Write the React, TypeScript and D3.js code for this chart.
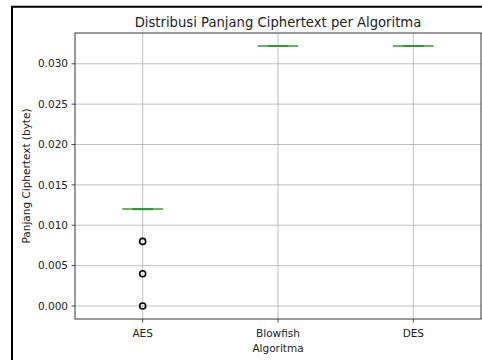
import React from "react";
import * as d3 from "d3";

const categories = ["AES", "Blowfish", "DES"];
const aesValues = [0.012, 0.012, 0.012, 0.012, 0.012, 0.012, 0.012, 0.012, 0.012, 0.012, 0.012, 0.012, 0.012, 0.008, 0.004, 0.0];
const blowfishValues = [0.0322, 0.0322, 0.0322, 0.0322, 0.0322, 0.0322, 0.0322, 0.0322];
const desValues = [0.0322, 0.0322, 0.0322, 0.0322, 0.0322, 0.0322, 0.0322, 0.0322];
const yTicks = [0, 0.005, 0.01, 0.015, 0.02, 0.025, 0.03];

const series = [aesValues, blowfishValues, desValues];

const W = 482, H = 360;
const M = { left: 75, right: 481, top: 33, bottom: 319 };
const FONT = "DejaVu Sans, sans-serif";

function stats(vals: number[]) {
  const s = [...vals].sort(d3.ascending);
  const q1 = d3.quantile(s, 0.25) as number;
  const med = d3.quantile(s, 0.5) as number;
  const q3 = d3.quantile(s, 0.75) as number;
  const iqr = q3 - q1;
  const lo = q1 - 1.5 * iqr, hi = q3 + 1.5 * iqr;
  const inside = s.filter((v) => v >= lo && v <= hi);
  const wLo = d3.min(inside) as number, wHi = d3.max(inside) as number;
  const fliers = Array.from(new Set(s.filter((v) => v < lo || v > hi)));
  return { q1, med, q3, wLo, wHi, fliers };
}

export default function App() {
  const all = series.flat();
  const dMin = d3.min(all) as number, dMax = d3.max(all) as number;
  const pad = (dMax - dMin) * 0.05;
  const y = d3.scaleLinear().domain([dMin - pad, dMax + pad]).range([M.bottom, M.top]);
  const x = d3.scaleLinear().domain([0.5, categories.length + 0.5]).range([M.left, M.right]);
  const unit = x(2) - x(1);
  const boxW = unit * 0.3;
  const capW = boxW * 0.5;

  return (
    <svg width={W} height={H} style={{ position: "fixed", left: 0, top: 0, background: "#fff" }} fontFamily={FONT}>
      <rect x={0} y={0} width={W} height={H} fill="#fff" />
      {yTicks.map((t) => (
        <line key={"gy" + t} x1={M.left} x2={M.right} y1={y(t)} y2={y(t)} stroke="#b0b0b0" strokeWidth={0.8} />
      ))}
      {categories.map((c, i) => (
        <line key={"gx" + c} x1={x(i + 1)} x2={x(i + 1)} y1={M.top} y2={M.bottom} stroke="#b0b0b0" strokeWidth={0.8} />
      ))}
      {series.map((vals, i) => {
        const st = stats(vals);
        const cx = x(i + 1);
        return (
          <g key={"b" + i}>
            <line x1={cx} x2={cx} y1={y(st.q1)} y2={y(st.wLo)} stroke="#1f77b4" />
            <line x1={cx} x2={cx} y1={y(st.q3)} y2={y(st.wHi)} stroke="#1f77b4" />
            <rect x={cx - boxW / 2} y={y(st.q3)} width={boxW} height={Math.max(0, y(st.q1) - y(st.q3))} fill="none" stroke="#1f77b4" />
            <line x1={cx - capW / 2} x2={cx + capW / 2} y1={y(st.wLo)} y2={y(st.wLo)} stroke="#2d8a45" strokeWidth={2} />
            <line x1={cx - capW / 2} x2={cx + capW / 2} y1={y(st.wHi)} y2={y(st.wHi)} stroke="#2d8a45" strokeWidth={2} />
            <line x1={cx - boxW / 2} x2={cx + boxW / 2} y1={y(st.med)} y2={y(st.med)} stroke="#2ca02c" strokeOpacity={0.75} strokeWidth={2} />
            {st.fliers.map((f) => (
              <circle key={f} cx={cx} cy={y(f)} r={3} fill="none" stroke="#000" strokeWidth={1.6} />
            ))}
          </g>
        );
      })}
      <rect x={M.left} y={M.top} width={M.right - M.left} height={M.bottom - M.top} fill="none" stroke="#222" strokeWidth={0.9} />
      {yTicks.map((t) => (
        <g key={"ty" + t}>
          <line x1={M.left - 3.5} x2={M.left} y1={y(t)} y2={y(t)} stroke="#222" strokeWidth={0.8} />
          <text x={M.left - 7} y={y(t)} dy="0.35em" textAnchor="end" fontSize={10.5} fill="#222">
            {d3.format(".3f")(t)}
          </text>
        </g>
      ))}
      {categories.map((c, i) => (
        <g key={"tx" + c}>
          <line x1={x(i + 1)} x2={x(i + 1)} y1={M.bottom} y2={M.bottom + 3.5} stroke="#222" strokeWidth={0.8} />
          <text x={x(i + 1)} y={M.bottom + 17.5} textAnchor="middle" fontSize={10.5} fill="#222">
            {c}
          </text>
        </g>
      ))}
      <text x={(M.left + M.right) / 2} y={352} textAnchor="middle" fontSize={10.5} fill="#222">Algoritma</text>
      <text transform={`translate(30,${(M.top + M.bottom) / 2}) rotate(-90)`} textAnchor="middle" fontSize={10.5} fill="#222">
        Panjang Ciphertext (byte)
      </text>
      <text x={(M.left + M.right) / 2} y={27} textAnchor="middle" fontSize={13.2} fill="#222">
        Distribusi Panjang Ciphertext per Algoritma
      </text>
      <path d={`M12,${H} L12,6.8 L${W},6.8`} fill="none" stroke="#000" strokeWidth={2} />
    </svg>
  );
}
